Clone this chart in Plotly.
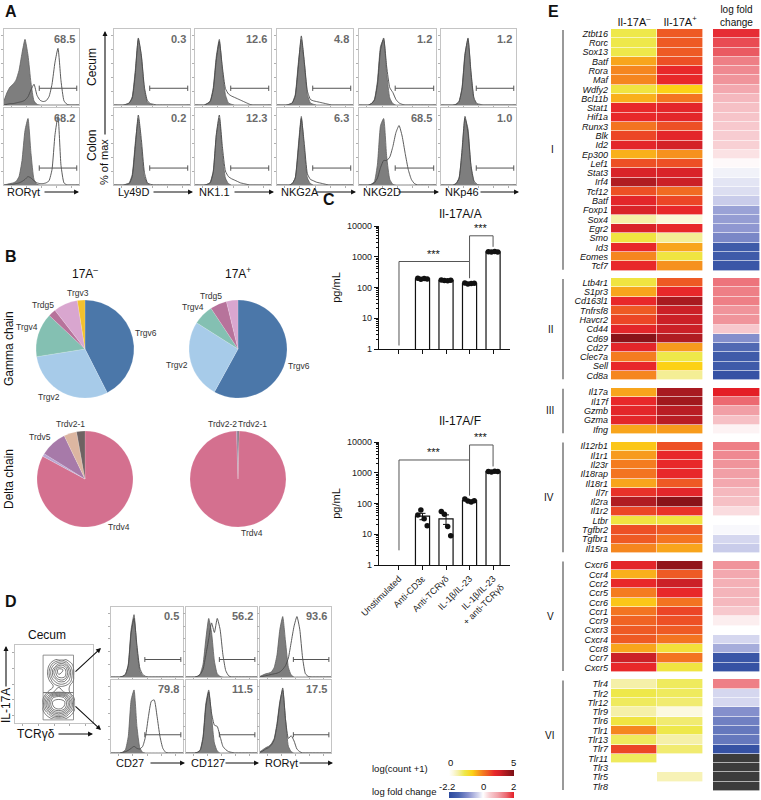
import numpy as np
import plotly.graph_objects as go

W, H = 761, 800
FONT = "Liberation Sans, Arial, Helvetica, sans-serif"


def px(x):
    return x / W


def py(y):
    return 1 - y / H


# ------------------------------------------------------------------ data
NB = 26
bins = [0.00, 0.04, 0.08, 0.12, 0.16, 0.20, 0.24, 0.28, 0.32, 0.36, 0.40, 0.44, 0.48,
        0.52, 0.56, 0.60, 0.64, 0.68, 0.72, 0.76, 0.80, 0.84, 0.88, 0.92, 0.96, 1.00]


def pad(v):
    return list(v) + [0] * (NB - len(v))


# Panel A: RORgt
ror_pct = [68.5, 68.2]
ror_cecum_ctrl = [0.06, 0.18, 0.26, 0.30, 0.36, 0.50, 0.75, 0.95, 0.72, 0.32, 0.06, 0.01]
ror_cecum_stain = [0, 0.01, 0.02, 0.02, 0.03, 0.04, 0.05, 0.07, 0.12, 0.22, 0.30, 0.14, 0.07,
                   0.05, 0.06, 0.12, 0.30, 0.62, 0.82, 0.35, 0.06, 0.01]
ror_colon_ctrl = [0, 0.01, 0.02, 0.03, 0.05, 0.12, 0.35, 0.78, 0.95, 0.45, 0.08, 0.01]
ror_colon_stain = [0, 0, 0.01, 0.01, 0.02, 0.03, 0.05, 0.08, 0.12, 0.10, 0.06, 0.03, 0.02,
                   0.02, 0.03, 0.06, 0.22, 0.72, 0.98, 0.28, 0.03]

# Panel A: NK receptors
a_markers = ["Ly49D", "NK1.1", "NKG2A", "NKG2D", "NKp46"]
a_pct_cecum = [0.3, 12.6, 4.8, 1.2, 1.2]
a_pct_colon = [0.2, 12.3, 6.3, 68.5, 1.0]

ly49d_cecum_ctrl = [0, 0, 0, 0, 0.01, 0.03, 0.12, 0.50, 0.95, 0.70, 0.22, 0.04, 0.01]
ly49d_cecum_stain = [0, 0, 0, 0, 0.01, 0.03, 0.10, 0.45, 0.97, 0.72, 0.26, 0.06, 0.02, 0.01]
nk11_cecum_ctrl = [0, 0, 0, 0, 0.02, 0.06, 0.25, 0.70, 0.95, 0.50, 0.15, 0.03, 0.01]
nk11_cecum_stain = [0, 0, 0, 0, 0.02, 0.05, 0.22, 0.65, 0.92, 0.55, 0.24, 0.16, 0.13, 0.11,
                    0.09, 0.07, 0.05, 0.03, 0.01]
nkg2a_cecum_ctrl = [0, 0, 0, 0, 0.01, 0.03, 0.15, 0.60, 0.95, 0.60, 0.15, 0.03, 0.01]
nkg2a_cecum_stain = [0, 0, 0, 0, 0.01, 0.03, 0.13, 0.55, 1.00, 0.62, 0.20, 0.08, 0.06, 0.05,
                     0.04, 0.03, 0.02, 0.01]
nkg2d_cecum_ctrl = [0, 0, 0, 0, 0.02, 0.08, 0.35, 0.85, 0.95, 0.45, 0.10, 0.02]
nkg2d_cecum_stain = [0, 0, 0, 0, 0.02, 0.07, 0.30, 0.80, 0.97, 0.55, 0.25, 0.18, 0.08, 0.03, 0.01]
nkp46_cecum_ctrl = [0, 0, 0, 0, 0, 0.01, 0.05, 0.25, 0.75, 0.95, 0.45, 0.08, 0.01]
nkp46_cecum_stain = [0, 0, 0, 0, 0, 0.01, 0.05, 0.23, 0.72, 0.97, 0.48, 0.10, 0.02, 0.01]

ly49d_colon_ctrl = [0, 0, 0, 0, 0.01, 0.03, 0.15, 0.60, 0.95, 0.55, 0.12, 0.02]
ly49d_colon_stain = [0, 0, 0, 0, 0.01, 0.02, 0.12, 0.55, 1.00, 0.65, 0.18, 0.03, 0.01]
nk11_colon_ctrl = [0, 0, 0, 0, 0.01, 0.04, 0.20, 0.70, 0.95, 0.45, 0.10, 0.02]
nk11_colon_stain = [0, 0, 0, 0, 0.01, 0.03, 0.18, 0.72, 1.00, 0.55, 0.20, 0.12, 0.09, 0.07,
                    0.05, 0.03, 0.02, 0.01]
nkg2a_colon_ctrl = [0, 0, 0, 0, 0, 0.02, 0.10, 0.55, 0.98, 0.50, 0.10, 0.02]
nkg2a_colon_stain = [0, 0, 0, 0, 0, 0.02, 0.10, 0.50, 0.95, 0.58, 0.16, 0.08, 0.06, 0.04,
                     0.03, 0.02, 0.01]
nkg2d_colon_ctrl = [0, 0, 0, 0, 0.01, 0.05, 0.30, 0.85, 0.95, 0.40, 0.08, 0.01]
nkg2d_colon_stain = [0, 0, 0, 0, 0.01, 0.03, 0.10, 0.25, 0.35, 0.35, 0.40, 0.55, 0.75, 0.85,
                     0.70, 0.45, 0.22, 0.08, 0.02]
nkp46_colon_ctrl = [0, 0, 0, 0, 0, 0.02, 0.10, 0.45, 0.95, 0.80, 0.25, 0.04]
nkp46_colon_stain = [0, 0, 0, 0, 0, 0.02, 0.09, 0.50, 0.98, 0.75, 0.28, 0.06, 0.01]

# Panel B: pies
g_neg_labels = ["Trgv6", "Trgv2", "Trgv4", "Trdg5", "other", "Trgv3"]
g_neg_values = [42.5, 30.0, 14.5, 2.5, 8.0, 2.5]
g_pos_labels = ["Trgv6", "Trgv2", "Trgv4", "Trdg5", "other"]
g_pos_values = [58.0, 26.0, 6.7, 5.5, 3.8]
d_neg_labels = ["Trdv4", "other", "Trdv5", "other2", "Trdv2-1"]
d_neg_values = [82.5, 1.0, 9.0, 4.3, 2.8]
d_pos_labels = ["Trdv2-1", "Trdv4", "Trdv2-2"]
d_pos_values = [0.4, 99.1, 0.5]
pie_colors = {"Trgv6": "#4b77a9", "Trgv2": "#a7cbe9", "Trgv4": "#84c0b2", "Trdg5": "#b7739b",
              "other": "#d9a6cf", "Trgv3": "#f2c12e"}
delta_colors = {"Trdv4": "#d4708f", "other": "#b9a7d2", "Trdv5": "#a77aa9",
                "other2": "#dcb6a1", "Trdv2-1": "#6e6262", "Trdv2-2": "#8c7f9c"}

# Panel C: bar charts
categories = ["Unstimulated", "Anti-CD3ε", "Anti-TCRγδ", "IL-1β/IL-23",
              "IL-1β/IL-23<br>+ anti-TCRγδ"]
il17aa_dots = [[], [200, 185, 195, 190], [175, 168, 165, 172], [140, 130, 135, 138],
               [1450, 1420, 1480, 1430]]
il17af_dots = [[], [42, 62, 32, 19], [55, 45, 18, 9], [140, 120, 112, 122],
               [1100, 1050, 1120, 1090]]

# Panel D
d_markers = ["CD27", "CD127", "RORγt"]
d_pct_top = [0.5, 56.2, 93.6]
d_pct_bot = [79.8, 11.5, 17.5]
cd27_top_ctrl = [0, 0, 0, 0, 0.01, 0.04, 0.20, 0.75, 0.98, 0.45, 0.10, 0.02]
cd27_top_stain = [0, 0, 0, 0, 0.01, 0.04, 0.18, 0.70, 0.92, 0.50, 0.14, 0.04, 0.01]
cd127_top_ctrl = [0, 0, 0, 0, 0.01, 0.05, 0.20, 0.60, 0.92, 0.70, 0.25, 0.05, 0.01]
cd127_top_stain = [0, 0, 0, 0, 0.01, 0.04, 0.12, 0.35, 0.60, 0.85, 0.70, 0.92, 0.75, 0.35,
                   0.10, 0.02]
rord_top_ctrl = [0.01, 0.03, 0.05, 0.06, 0.08, 0.15, 0.35, 0.75, 0.95, 0.55, 0.15, 0.03]
rord_top_stain = [0, 0.01, 0.02, 0.03, 0.04, 0.05, 0.06, 0.08, 0.12, 0.18, 0.30, 0.55, 0.80,
                  0.95, 0.75, 0.30, 0.05, 0.01]
cd27_bot_ctrl = [0, 0, 0, 0, 0.01, 0.05, 0.25, 0.80, 0.95, 0.40, 0.08, 0.01]
cd27_bot_stain = [0, 0, 0, 0, 0.01, 0.02, 0.04, 0.07, 0.10, 0.07, 0.06, 0.10, 0.25, 0.55,
                  0.78, 0.80, 0.55, 0.25, 0.07, 0.01]
cd127_bot_ctrl = [0, 0, 0, 0, 0.01, 0.05, 0.25, 0.75, 0.95, 0.55, 0.15, 0.03]
cd127_bot_stain = [0, 0, 0, 0, 0.01, 0.04, 0.22, 0.70, 0.92, 0.60, 0.42, 0.40, 0.25, 0.10,
                   0.05, 0.02, 0.01]
rord_bot_ctrl = [0.02, 0.05, 0.08, 0.10, 0.14, 0.22, 0.45, 0.78, 0.95, 0.50, 0.10, 0.02]
rord_bot_stain = [0.01, 0.03, 0.06, 0.08, 0.12, 0.20, 0.42, 0.75, 0.98, 0.50, 0.22, 0.26,
                  0.18, 0.06, 0.02]

contour_x = [0.35, 0.42, 0.49, 0.56, 0.63, 0.70, 0.77]
contour_y = [0.05, 0.12, 0.19, 0.26, 0.33, 0.40, 0.47, 0.54, 0.61, 0.68, 0.75, 0.82]
contour_z = [
    [0, 0, 0.1, 0.1, 0.1, 0, 0],
    [0, 0.2, 0.5, 0.6, 0.5, 0.2, 0],
    [0.1, 0.5, 0.9, 1.0, 0.9, 0.5, 0.1],
    [0.1, 0.6, 1.0, 1.0, 1.0, 0.6, 0.1],
    [0, 0.4, 0.8, 0.9, 0.8, 0.4, 0],
    [0, 0.1, 0.2, 0.3, 0.2, 0.1, 0],
    [0, 0, 0.1, 0.2, 0.2, 0.1, 0],
    [0, 0, 0.3, 0.5, 0.5, 0.3, 0],
    [0, 0.1, 0.5, 0.8, 0.8, 0.4, 0],
    [0, 0.1, 0.5, 0.9, 0.8, 0.4, 0],
    [0, 0, 0.3, 0.5, 0.5, 0.2, 0],
    [0, 0, 0, 0.1, 0.1, 0, 0],
]

# Panel E: heatmaps
group_names = ["I", "II", "III", "IV", "V", "VI"]
g1_genes = ["Ztbt16", "Rorc", "Sox13", "Batf", "Rora", "Maf", "Wdfy2", "Bcl11b", "Stat1",
            "Hif1a", "Runx3", "Blk", "Id2", "Ep300", "Lef1", "Stat3", "Irf4", "Tcf12",
            "Batf", "Foxp1", "Sox4", "Egr2", "Smo", "Id3", "Eomes", "Tcf7"]
g1_neg = [1.2, 1.2, 1.2, 2.2, 2.5, 2.5, 1.3, 2.1, 3.5, 3.5, 2.7, 3.2, 3.6, 2.1, 3.1, 3.8,
          4.3, 3.1, 3.6, 3.8, 0.7, 3.8, 1.3, 3.5, 2.5, 3.5]
g1_pos = [3.0, 3.0, 3.0, 3.1, 3.5, 3.5, 1.8, 2.7, 3.6, 3.6, 3.1, 3.6, 3.9, 2.4, 3.1, 3.8,
          4.0, 2.8, 3.2, 3.5, 0.35, 3.5, 0.8, 2.2, 1.3, 2.4]
g1_lfc = [1.9, 1.7, 1.6, 1.3, 1.2, 1.1, 0.9, 0.7, 0.6, 0.55, 0.5, 0.45, 0.4, 0.25, 0.05,
          -0.1, -0.2, -0.25, -0.4, -0.8, -0.85, -0.9, -1.1, -1.8, -1.8, -1.9]
g2_genes = ["Ltb4r1", "S1pr3", "Cd163l1", "Tnfrsf8", "Havcr2", "Cd44", "Cd69", "Cd27",
            "Clec7a", "Sell", "Cd8a"]
g2_neg = [1.3, 2.2, 3.5, 3.0, 3.2, 3.6, 4.8, 3.6, 2.6, 3.5, 2.5]
g2_pos = [3.0, 3.5, 4.4, 4.0, 4.0, 4.0, 4.3, 2.3, 1.2, 1.8, 0.8]
g2_lfc = [1.4, 1.3, 1.3, 1.1, 1.1, 0.5, -1.0, -1.5, -1.8, -1.8, -2.0]
g3_genes = ["Il17a", "Il17f", "Gzmb", "Gzma", "Ifng"]
g3_neg = [2.2, 3.5, 3.6, 3.6, 2.2]
g3_pos = [4.4, 4.5, 4.2, 4.2, 2.3]
g3_lfc = [2.0, 1.5, 1.0, 0.6, 0.1]
g4_genes = ["Il12rb1", "Il1r1", "Il23r", "Il18rap", "Il18r1", "Il7r", "Il2ra", "Il1r2",
            "Ltbr", "Tgfbr2", "Tgfbr1", "Il15ra"]
g4_neg = [1.9, 2.3, 2.6, 2.7, 2.2, 3.4, 4.3, 3.2, 1.3, 3.1, 3.0, 2.5]
g4_pos = [3.1, 3.5, 3.5, 3.5, 3.0, 3.6, 4.8, 3.4, 1.3, 3.0, 2.7, 2.2]
g4_lfc = [1.3, 1.2, 1.1, 1.0, 0.9, 0.7, 0.6, 0.3, 0.0, -0.05, -0.3, -0.4]
g5_genes = ["Cxcr6", "Ccr4", "Ccr2", "Ccr5", "Ccr6", "Ccr1", "Ccr9", "Cxcr3", "Cxcr4",
            "Ccr8", "Ccr7", "Cxcr5"]
g5_neg = [3.6, 2.1, 3.5, 2.6, 1.9, 2.7, 2.9, 3.0, 3.0, 2.2, 4.0, 3.5]
g5_pos = [4.7, 3.0, 4.0, 3.5, 2.7, 3.2, 3.1, 3.0, 2.7, 1.4, 2.7, 1.3]
g5_lfc = [1.1, 0.9, 0.8, 0.75, 0.7, 0.5, 0.15, 0.0, -0.3, -0.7, -1.9, -2.0]
g6_genes = ["Tlr4", "Tlr2", "Tlr12", "Tlr9", "Tlr6", "Tlr1", "Tlr13", "Tlr7", "Tlr11",
            "Tlr3", "Tlr5", "Tlr8"]
g6_neg = [0.7, 1.2, 1.1, 0.7, 1.3, 2.5, 1.1, 3.2, 1.1, 0, 0, 0]
g6_pos = [1.1, 1.1, 1.0, 0.3, 1.0, 1.2, 0.7, 1.0, 0, 0, 0.6, 0]
g6_lfc = [1.3, -0.3, -0.3, -1.0, -1.2, -1.3, -1.3, -2.0, None, None, None, None]

count_range = [0, 5]
lfc_range = [-2.2, 2]

# ------------------------------------------------------------------ figure
fig = go.Figure()
axes_n = [0]


def new_axes(l, r, t, b, xkw, ykw):
    axes_n[0] += 1
    n = axes_n[0]
    s = "" if n == 1 else str(n)
    fig.update_layout(**{
        f"xaxis{s}": dict(domain=[px(l), px(r)], anchor=f"y{s}", automargin=False, **xkw),
        f"yaxis{s}": dict(domain=[py(b), py(t)], anchor=f"x{s}", automargin=False, **ykw),
    })
    return f"x{s}", f"y{s}"


def txt(x, y, text, size=11, xanchor="center", yanchor="middle", angle=0, color="#111", bold=False):
    fig.add_annotation(x=px(x), y=py(y), xref="paper", yref="paper", text=f"<b>{text}</b>" if bold else text,
                       showarrow=False, xanchor=xanchor, yanchor=yanchor, textangle=angle,
                       font=dict(size=size, color=color, family=FONT))


def arrow(xh, yh, dx, dy, width=1.1):
    fig.add_annotation(x=px(xh), y=py(yh), xref="paper", yref="paper", text="", showarrow=True,
                       ax=dx, ay=dy, arrowhead=2, arrowsize=0.9, arrowwidth=width, arrowcolor="#111")


HIST_X = dict(range=[0, 1], showgrid=False, zeroline=False, showticklabels=False, showline=True,
              mirror=True, linecolor="#c4c4c4", linewidth=1, ticks="outside", ticklen=2,
              tickcolor="#b0b0b0", tickvals=[0.1, 0.3, 0.5, 0.7, 0.9], fixedrange=True)
HIST_Y = dict(range=[0, 1.1], showgrid=False, zeroline=False, showticklabels=False, showline=True,
              mirror=True, linecolor="#c4c4c4", linewidth=1, ticks="outside", ticklen=2,
              tickcolor="#b0b0b0", tickvals=[0.2, 0.4, 0.6, 0.8, 1.0], fixedrange=True)
GATE = [0.47, 0.97]


def histo(box, ctrl, stain, pct, gate_y=0.22):
    l, r, t, b = box
    xs, ys = new_axes(l, r, t, b, HIST_X, HIST_Y)
    fig.add_trace(go.Scatter(x=bins, y=pad(ctrl), xaxis=xs, yaxis=ys, mode="lines", fill="tozeroy",
                             fillcolor="#7e7e7e", line=dict(color="#606060", width=0.8, shape="spline",
                                                            smoothing=0.5), hoverinfo="skip"))
    fig.add_trace(go.Scatter(x=bins, y=pad(stain), xaxis=xs, yaxis=ys, mode="lines",
                             line=dict(color="#4a4a4a", width=0.9, shape="spline", smoothing=0.5),
                             hoverinfo="skip"))
    xd, yd = f"{xs} domain", f"{ys} domain"
    fig.add_shape(type="line", xref=xd, yref=yd, x0=GATE[0], x1=GATE[1], y0=gate_y, y1=gate_y,
                  line=dict(color="#555555", width=1))
    for gx in GATE:
        fig.add_shape(type="line", xref=xd, yref=yd, x0=gx, x1=gx, y0=gate_y - 0.035,
                      y1=gate_y + 0.035, line=dict(color="#555555", width=1))
    fig.add_annotation(xref=xd, yref=yd, x=0.97, y=0.98, xanchor="right", yanchor="top",
                       text=f"<b>{pct:.1f}</b>", showarrow=False,
                       font=dict(size=11, color="#6a6a6a", family=FONT))


# ---- Panel A
txt(3, 11, "A", size=16, xanchor="left", bold=True)
row_a = [(29, 105), (108, 185)]
cols_a = [(114, 190), (195, 271), (277, 353), (359, 436), (441, 516)]
histo((4, 79) + row_a[0], ror_cecum_ctrl, ror_cecum_stain, ror_pct[0])
histo((4, 79) + row_a[1], ror_colon_ctrl, ror_colon_stain, ror_pct[1])
cecum_sets = [(ly49d_cecum_ctrl, ly49d_cecum_stain), (nk11_cecum_ctrl, nk11_cecum_stain),
              (nkg2a_cecum_ctrl, nkg2a_cecum_stain), (nkg2d_cecum_ctrl, nkg2d_cecum_stain),
              (nkp46_cecum_ctrl, nkp46_cecum_stain)]
colon_sets = [(ly49d_colon_ctrl, ly49d_colon_stain), (nk11_colon_ctrl, nk11_colon_stain),
              (nkg2a_colon_ctrl, nkg2a_colon_stain), (nkg2d_colon_ctrl, nkg2d_colon_stain),
              (nkp46_colon_ctrl, nkp46_colon_stain)]
for i, (l, r) in enumerate(cols_a):
    histo((l, r) + row_a[0], cecum_sets[i][0], cecum_sets[i][1], a_pct_cecum[i])
    histo((l, r) + row_a[1], colon_sets[i][0], colon_sets[i][1], a_pct_colon[i])

txt(5, 192, "RORγt", size=11, xanchor="left")
arrow(79, 192, -36, 0)
for i, (l, r) in enumerate(cols_a):
    txt(l + 2, 192, a_markers[i], size=11, xanchor="left")
    arrow(r + 3, 192, -(r + 3 - (l + 38)), 0)
txt(92, 67, "Cecum", size=12, angle=-90)
txt(92, 146, "Colon", size=12, angle=-90)
txt(104, 162, "% of max", size=11, angle=-90)
arrow(105, 31, 0, 105)

# ---- Panel B
txt(3, 256, "B", size=16, xanchor="left", bold=True)
txt(85, 273, "17A<sup>–</sup>", size=12)
txt(238, 273, "17A<sup>+</sup>", size=12)
txt(9, 349, "Gamma chain", size=12, angle=-90)
txt(9, 479, "Delta chain", size=12, angle=-90)


def pie(center, r, labels, values, cmap):
    cx, cy = center
    fig.add_trace(go.Pie(labels=labels, values=values, sort=False, direction="clockwise",
                         rotation=0, textinfo="none", hoverinfo="label+value",
                         marker=dict(colors=[cmap[k] for k in labels],
                                     line=dict(color="rgba(255,255,255,0.5)", width=0.3)),
                         domain=dict(x=[px(cx - r), px(cx + r)], y=[py(cy + r), py(cy - r)]),
                         showlegend=False))


pie((85, 349), 49, g_neg_labels, g_neg_values, pie_colors)
pie((238, 349), 49, g_pos_labels, g_pos_values, pie_colors)
pie((85, 479), 48, d_neg_labels, d_neg_values, delta_colors)
pie((238, 479), 48, d_pos_labels, d_pos_values, delta_colors)
pie_label_pos = [
    (78, 293, "Trgv3"), (43, 305, "Trdg5"), (27, 327, "Trgv4"), (146, 333, "Trgv6"),
    (49, 397, "Trgv2"), (211, 296, "Trdg5"), (193, 307, "Trgv4"), (177, 365, "Trgv2"),
    (299, 366, "Trgv6"), (70, 424, "Trdv2-1"), (40, 437, "Trdv5"), (119, 527, "Trdv4"),
    (223, 424, "Trdv2-2"), (253, 424, "Trdv2-1"), (252, 533, "Trdv4"),
]
for x, y, t in pie_label_pos:
    txt(x, y, t, size=8.5, color="#333")

# ---- Panel C
txt(321, 199, "C", size=16, xanchor="left", bold=True)
minor_vals = [m * 10 ** e for e in range(4) for m in range(2, 10)]
offsets = [-0.2, -0.07, 0.07, 0.2]


def barchart(t, b, dots, title, show_labels, brackets):
    xkw = dict(range=[-0.85, 4.72], tickvals=list(range(5)),
               ticktext=categories if show_labels else [""] * 5,
               showticklabels=show_labels, tickangle=-45, ticks="outside", ticklen=4,
               tickcolor="#111", showline=True, linecolor="#111", linewidth=1.2, showgrid=False,
               zeroline=False, tickfont=dict(size=9, color="#222"), fixedrange=True)
    ykw = dict(type="log", range=[0, 4], tickvals=[1, 10, 100, 1000, 10000],
               ticktext=["1", "10", "100", "1000", "10000"], ticks="outside", ticklen=4,
               tickcolor="#111", showline=True, linecolor="#111", linewidth=1.2, showgrid=False,
               zeroline=False, tickfont=dict(size=9, color="#222"),
               title=dict(text="pg/mL", font=dict(size=11), standoff=4),
               minor=dict(tickmode="array", tickvals=minor_vals, ticks="outside", ticklen=2,
                          tickcolor="#111", showgrid=False), fixedrange=True)
    xs, ys = new_axes(379, 510, t, b, xkw, ykw)
    means = [float(np.mean(d)) if d else None for d in dots]
    sems = [float(np.std(d, ddof=1) / np.sqrt(len(d))) if d else 0 for d in dots]
    fig.add_trace(go.Bar(x=list(range(5)), y=means, width=0.6, xaxis=xs, yaxis=ys,
                         marker=dict(color="white", line=dict(color="#111", width=1.2)),
                         error_y=dict(type="data", array=sems, color="#111", thickness=1, width=3),
                         showlegend=False, hoverinfo="skip"))
    dx, dy = [], []
    for i, d in enumerate(dots):
        for j, v in enumerate(d):
            dx.append(i + offsets[j])
            dy.append(v)
    fig.add_trace(go.Scatter(x=dx, y=dy, mode="markers", xaxis=xs, yaxis=ys,
                             marker=dict(color="#111", size=5.5), showlegend=False,
                             hoverinfo="skip"))
    for (i0, i1, level, left_end, right_end) in brackets:
        fig.add_trace(go.Scatter(x=[i0, i0, i1, i1], y=[left_end, level, level, right_end],
                                 mode="lines", xaxis=xs, yaxis=ys,
                                 line=dict(color="#555", width=1), showlegend=False,
                                 hoverinfo="skip"))
        fig.add_annotation(x=(i0 + i1) / 2, y=np.log10(level), xref=xs, yref=ys, text="***",
                           showarrow=False, yanchor="bottom", yshift=0,
                           font=dict(size=11, color="#111"))
    fig.add_annotation(x=0.62, y=py(t - 21), xref=f"{xs} domain", yref="paper", text=title,
                       showarrow=False, font=dict(size=12, color="#111"))


barchart(226, 349, il17aa_dots, "Il-17A/A", False,
         [(0, 3, 700, 1.3, 200), (3, 4, 4800, 700, 2100)])
barchart(442, 565, il17af_dots, "Il-17A/F", True,
         [(0, 3, 2600, 3, 180), (3, 4, 8000, 2600, 1600)])

# ---- Panel D
txt(3, 601, "D", size=16, xanchor="left", bold=True)
txt(47, 635, "Cecum", size=12)
CX = dict(range=[0, 1], showgrid=False, zeroline=False, showticklabels=False, showline=True,
          mirror=True, linecolor="#c4c4c4", ticks="outside", ticklen=2, tickcolor="#aaa",
          tickvals=[0.1, 0.3, 0.5, 0.7, 0.9], fixedrange=True)
CY = dict(CX)
xs, ys = new_axes(15, 93, 645, 723, CX, CY)
fig.add_trace(go.Contour(x=contour_x, y=contour_y, z=contour_z, xaxis=xs, yaxis=ys,
                         contours=dict(coloring="lines", start=0.1, end=0.95, size=0.12),
                         colorscale=[[0, "#222"], [1, "#222"]], showscale=False,
                         line=dict(width=0.6, smoothing=1.3), hoverinfo="skip"))
for y0, y1 in [(0.04, 0.39), (0.39, 0.87)]:
    fig.add_shape(type="rect", xref=f"{xs} domain", yref=f"{ys} domain", x0=0.36, x1=0.75,
                  y0=y0, y1=y1, line=dict(color="#777", width=0.8))
arrow(101, 648, -27, 25)
arrow(101, 730, -27, -25)
txt(6, 706, "IL-17A", size=12, angle=-90)
arrow(6, 646, 0, 42)
txt(15, 734, "TCRγδ", size=12, xanchor="left")
arrow(93, 734, -36, 0)

rows_d = [(607, 677), (680, 753)]
cols_d = [(111, 183), (186, 257), (260, 331)]
d_top_sets = [(cd27_top_ctrl, cd27_top_stain), (cd127_top_ctrl, cd127_top_stain),
              (rord_top_ctrl, rord_top_stain)]
d_bot_sets = [(cd27_bot_ctrl, cd27_bot_stain), (cd127_bot_ctrl, cd127_bot_stain),
              (rord_bot_ctrl, rord_bot_stain)]
for i, (l, r) in enumerate(cols_d):
    histo((l, r) + rows_d[0], d_top_sets[i][0], d_top_sets[i][1], d_pct_top[i], gate_y=0.25)
    histo((l, r) + rows_d[1], d_bot_sets[i][0], d_bot_sets[i][1], d_pct_bot[i], gate_y=0.25)
    txt(l + 3, 763, d_markers[i], size=11, xanchor="left")
    arrow(r + 2, 763, -(r + 2 - (l + 38)), 0)

# ---- Panel E
txt(546, 11, "E", size=16, xanchor="left", bold=True)
groups = [(g1_genes, g1_neg, g1_pos, g1_lfc), (g2_genes, g2_neg, g2_pos, g2_lfc),
          (g3_genes, g3_neg, g3_pos, g3_lfc), (g4_genes, g4_neg, g4_pos, g4_lfc),
          (g5_genes, g5_neg, g5_pos, g5_lfc), (g6_genes, g6_neg, g6_pos, g6_lfc)]
GAP = 0.8
z_cnt, z_lfc, z_na, y_edges, centers, names, spans = [], [], [], [0.0], [], [], []
yy = 0.0
for gi, (genes, neg, pos, lfc) in enumerate(groups):
    if gi > 0:
        z_cnt.append([None, None])
        z_lfc.append([None])
        z_na.append([None])
        yy += GAP
        y_edges.append(yy)
    start = yy
    for g, a, b, c in zip(genes, neg, pos, lfc):
        z_cnt.append([a, b])
        z_lfc.append([c])
        z_na.append([1 if c is None else None])
        centers.append(yy + 0.5)
        names.append(g)
        yy += 1
        y_edges.append(yy)
    spans.append((start, yy))
total = yy

count_scale = [[0, "#ffffff"], [0.06, "#fcf9e0"], [0.14, "#f5f0a8"], [0.24, "#eee84a"],
               [0.36, "#fcd116"], [0.44, "#f8a51c"], [0.52, "#f47c20"], [0.6, "#ee5a24"],
               [0.7, "#e8282a"], [0.78, "#d42128"], [0.86, "#b01c22"], [1, "#7a1015"]]
lfc_scale = [[0, "#2c4a9e"], [0.15, "#4a64b0"], [0.3, "#8a93cf"], [0.45, "#d4d6ee"],
             [0.524, "#ffffff"], [0.62, "#f8d0d4"], [0.75, "#f2a4ab"], [0.88, "#ec6a72"],
             [1, "#e41e26"]]

EX = dict(side="top", showgrid=False, zeroline=False, ticks="", showline=False, fixedrange=True)
EY = dict(range=[total, 0], showgrid=False, zeroline=False, ticks="", showline=False,
          fixedrange=True)
xs_c, ys_c = new_axes(611, 703, 29, 791,
                      dict(EX, range=[-0.5, 1.5], tickvals=[0, 1],
                           ticktext=["Il-17A<sup>–</sup>", "Il-17A<sup>+</sup>"],
                           tickfont=dict(size=11, color="#111")),
                      dict(EY, tickvals=centers, ticktext=names, ticklabelstandoff=2,
                           tickfont=dict(size=9, color="#111", style="italic")))
fig.add_trace(go.Heatmap(z=z_cnt, x=[0, 1], y=y_edges, xaxis=xs_c, yaxis=ys_c,
                         colorscale=count_scale, zmin=count_range[0], zmax=count_range[1],
                         xgap=0.6, ygap=0.6, hoverinfo="skip",
                         colorbar=dict(orientation="h", x=px(449), xanchor="left", y=py(773),
                                       yanchor="middle", len=65, lenmode="pixels", thickness=6,
                                       showticklabels=False, outlinewidth=0, xpad=0, ypad=0)))
xs_l, ys_l = new_axes(713, 760, 29, 791,
                      dict(EX, range=[-0.5, 0.5], tickvals=[0], ticktext=["log fold<br>change"],
                           tickfont=dict(size=10, color="#111")),
                      dict(EY, showticklabels=False))
fig.add_trace(go.Heatmap(z=z_lfc, x=[0], y=y_edges, xaxis=xs_l, yaxis=ys_l,
                         colorscale=lfc_scale, zmin=lfc_range[0], zmax=lfc_range[1],
                         xgap=0.6, ygap=0.6, hoverinfo="skip",
                         colorbar=dict(orientation="h", x=px(449), xanchor="left", y=py(795),
                                       yanchor="middle", len=65, lenmode="pixels", thickness=6,
                                       showticklabels=False, outlinewidth=0, xpad=0, ypad=0)))
fig.add_trace(go.Heatmap(z=z_na, x=[0], y=y_edges, xaxis=xs_l, yaxis=ys_l,
                         colorscale=[[0, "#3c3c3c"], [1, "#3c3c3c"]], showscale=False,
                         xgap=0.6, ygap=0.6, hoverinfo="skip"))
for name, (s0, s1) in zip(group_names, spans):
    fig.add_shape(type="line", xref="paper", yref=ys_c, x0=px(563), x1=px(563), y0=s0 + 0.1,
                  y1=s1 - 0.1, line=dict(color="#555", width=1.2))
    fig.add_annotation(x=px(556), y=(s0 + s1) / 2, xref="paper", yref=ys_c, text=name,
                       showarrow=False, font=dict(size=10, color="#111", family=FONT))

# colorbar captions
txt(370, 768, "log(count +1)", size=9.5, xanchor="left")
txt(370, 791, "log fold change", size=9.5, xanchor="left")
txt(451, 762, str(count_range[0]), size=9.5)
txt(513, 762, str(count_range[1]), size=9.5)
txt(447, 786, str(lfc_range[0]), size=9.5)
txt(449 + 65 * (-lfc_range[0]) / (lfc_range[1] - lfc_range[0]), 786, "0", size=9.5)
txt(513, 786, str(lfc_range[1]), size=9.5)

fig.update_layout(width=W, height=H,
                  margin=dict(l=0, r=0, t=0, b=0, pad=0, autoexpand=False),
                  paper_bgcolor="white", plot_bgcolor="white", showlegend=False,
                  font=dict(family=FONT, size=11, color="#111"))
fig.write_html("out.html", config={"displayModeBar": False},
               post_script="document.body.style.margin='0px';document.body.style.padding='0px';"
                           "document.documentElement.style.overflow='hidden';")
